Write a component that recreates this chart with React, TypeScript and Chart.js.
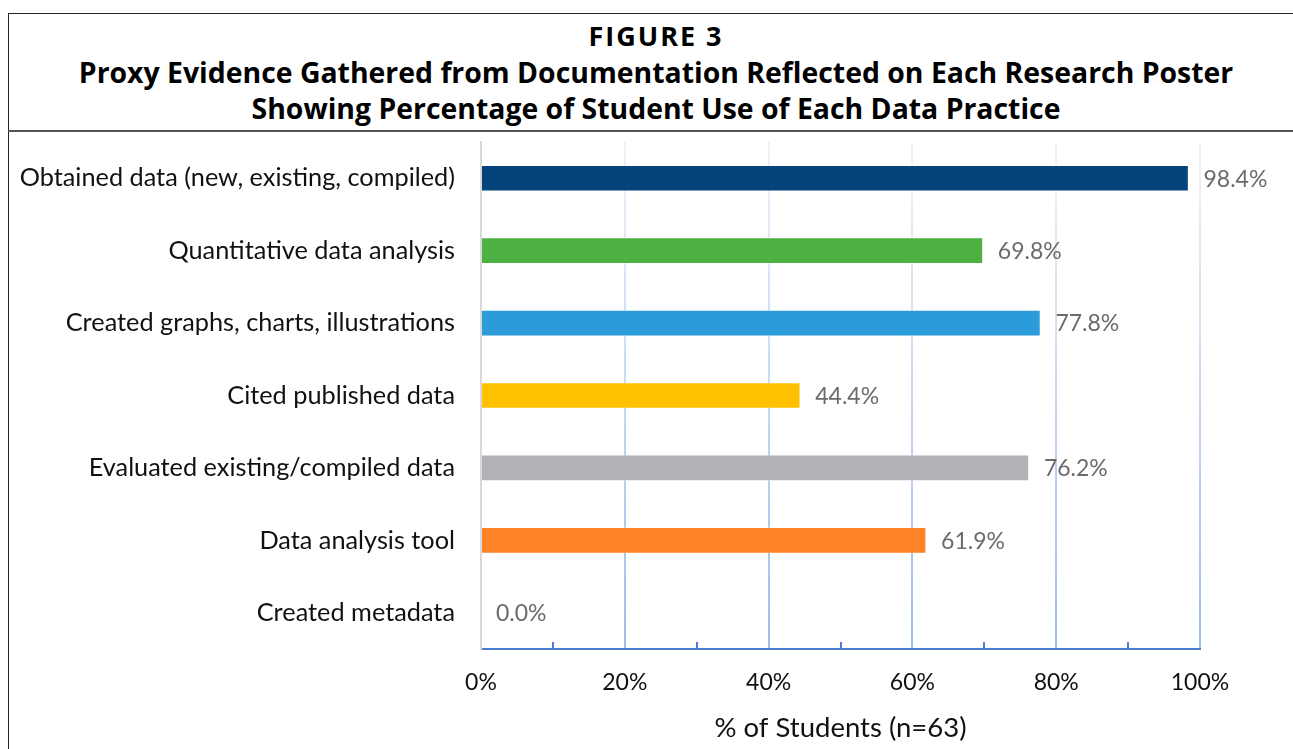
import React, { useEffect, useRef } from "react";
import { Chart, registerables } from "chart.js";

Chart.register(...registerables);

const categories = [
  "Obtained data (new, existing, compiled)",
  "Quantitative data analysis",
  "Created graphs, charts, illustrations",
  "Cited published data",
  "Evaluated existing/compiled data",
  "Data analysis tool",
  "Created metadata",
];
const values = [98.4, 69.8, 77.8, 44.4, 76.2, 61.9, 0.0];
const barColors = ["#02437b", "#4cb142", "#2b9bd9", "#ffc000", "#b1b2b5", "#ff8227", "#7f7f7f"];
const majorTicks = [0, 20, 40, 60, 80, 100];
const minorTicks = [10, 30, 50, 70, 90];
const titleLines = [
  "FIGURE 3",
  "Proxy Evidence Gathered from Documentation Reflected on Each Research Poster",
  "Showing Percentage of Student Use of Each Data Practice",
];
const axisTitle = "% of Students (n=63)";

const FONT = "Lato, 'Open Sans', sans-serif";
const TITLE_FONT = "'Open Sans', Lato, sans-serif";

const labelPlugin = {
  id: "valueLabels",
  afterDatasetsDraw(chart: any) {
    const ctx = chart.ctx;
    const meta = chart.getDatasetMeta(0);
    ctx.save();
    ctx.font = `23px ${FONT}`;
    ctx.fillStyle = "#6b6b6b";
    ctx.textAlign = "left";
    ctx.textBaseline = "middle";
    meta.data.forEach((bar: any, i: number) => {
      ctx.fillText(values[i].toFixed(1) + "%", bar.x + 15, bar.y + 1);
    });
    ctx.restore();
  },
};

const minorTickPlugin = {
  id: "minorTicks",
  afterDraw(chart: any) {
    const ctx = chart.ctx;
    const xs = chart.scales.x;
    const bottom = chart.chartArea.bottom;
    ctx.save();
    ctx.strokeStyle = "#4a7fcf";
    ctx.lineWidth = 2;
    minorTicks.forEach((v) => {
      const x = Math.round(xs.getPixelForValue(v));
      ctx.beginPath();
      ctx.moveTo(x, bottom);
      ctx.lineTo(x, bottom - 7);
      ctx.stroke();
    });
    ctx.restore();
  },
};

function BarChart() {
  const ref = useRef<HTMLCanvasElement | null>(null);
  useEffect(() => {
    if (!ref.current) return;
    const chart = new Chart(ref.current, {
      type: "bar",
      data: {
        labels: categories,
        datasets: [
          {
            data: values,
            backgroundColor: barColors,
            borderColor: "rgba(255,255,255,0.35)",
            borderWidth: 1,
            barThickness: 26,
          },
        ],
      },
      options: {
        indexAxis: "y",
        responsive: false,
        animation: false,
        layout: { padding: { left: 0, top: 142, right: 93, bottom: 0 } },
        plugins: {
          legend: { display: false },
          tooltip: { enabled: false },
        },
        scales: {
          x: {
            min: 0,
            max: 100,
            afterBuildTicks: (scale: any) => {
              scale.ticks = majorTicks.map((v) => ({ value: v }));
            },
            afterFit: (scale: any) => {
              scale.height = 100;
            },
            ticks: {
              callback: (v: any) => v + "%",
              font: { family: FONT, size: 23 },
              color: "#111",
              padding: 20,
              maxRotation: 0,
            },
            grid: {
              drawTicks: false,
              lineWidth: 2,
              color: (ctx: any) => {
                if (ctx.tick && ctx.tick.value === 0) return "rgba(0,0,0,0)";
                const area = ctx.chart.chartArea;
                if (!area) return "#b8cdeb";
                const g = ctx.chart.ctx.createLinearGradient(0, area.top, 0, area.bottom);
                g.addColorStop(0, "#eef3fb");
                g.addColorStop(1, "#9ebde8");
                return g;
              },
            },
            border: { display: true, color: "#4a7fcf", width: 2 },
            title: {
              display: true,
              text: axisTitle,
              font: { family: FONT, size: 27.5 },
              color: "#111",
              padding: { top: 2, bottom: 4 },
            },
          },
          y: {
            afterFit: (scale: any) => {
              scale.width = 481;
            },
            ticks: {
              font: { family: FONT, size: 25.3 },
              color: "#111",
              padding: 26,
            },
            grid: { display: false, drawTicks: false },
            border: { display: true, color: "#d9d9d9", width: 2 },
          },
        },
      } as any,
      plugins: [labelPlugin, minorTickPlugin],
    });
    return () => chart.destroy();
  }, []);
  return <canvas ref={ref} width={1293} height={749} style={{ display: "block" }} />;
}

export default function App() {
  useEffect(() => {
    document.body.style.overflow = "hidden";
  }, []);
  const lineTops = [18, 54, 90];
  const lineSizes = [27, 28.4, 28.4];
  const lineSpacing = [2, 0, 0];
  return (
    <div style={{ position: "fixed", left: 0, top: 0, width: 1293, height: 749, overflow: "hidden", background: "#fff" }}>
      <div
        style={{
          position: "absolute",
          left: 8,
          top: 13,
          width: 1400,
          height: 800,
          borderLeft: "1.5px solid #222",
          borderTop: "1.5px solid #222",
          boxSizing: "border-box",
        }}
      />
      <div style={{ position: "absolute", left: 8, top: 130, width: 1400, height: 2, background: "#555" }} />
      {titleLines.map((t, i) => (
        <div
          key={i}
          style={{
            position: "absolute",
            left: 8,
            width: 1296,
            top: lineTops[i],
            height: 36,
            lineHeight: "36px",
            textAlign: "center",
            fontFamily: TITLE_FONT,
            fontWeight: 700,
            fontSize: lineSizes[i],
            letterSpacing: lineSpacing[i],
            color: "#000",
            whiteSpace: "nowrap",
          }}
        >
          {t}
        </div>
      ))}
      <div style={{ position: "absolute", left: 0, top: 0 }}>
        <BarChart />
      </div>
    </div>
  );
}
